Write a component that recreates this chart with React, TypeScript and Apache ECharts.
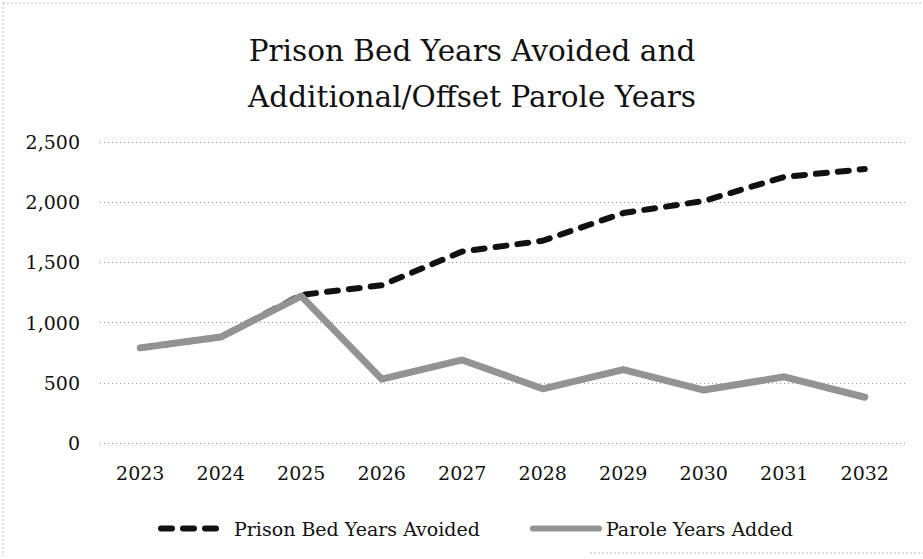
import React, { useEffect, useRef } from "react";
import * as echarts from "echarts";

const years = ["2023", "2024", "2025", "2026", "2027", "2028", "2029", "2030", "2031", "2032"];
const prisonBedYearsAvoided = [790, 880, 1230, 1310, 1590, 1680, 1910, 2010, 2210, 2275];
const paroleYearsAdded = [790, 880, 1220, 530, 690, 450, 610, 440, 550, 380];
const yTicks = [0, 500, 1000, 1500, 2000, 2500];
const titleLines = ["Prison Bed Years Avoided and", "Additional/Offset Parole Years"];
const seriesNames = ["Prison Bed Years Avoided", "Parole Years Added"];

const FONT = "DejaVu Serif";

export default function App() {
  const ref = useRef<HTMLDivElement>(null);
  useEffect(() => {
    if (!ref.current) return;
    const chart = echarts.init(ref.current, null, { renderer: "svg" });
    chart.setOption({
      animation: false,
      backgroundColor: "#ffffff",
      title: {
        text: titleLines.join("\n"),
        left: 467,
        textAlign: "center",
        top: 23,
        textStyle: {
          fontFamily: FONT,
          fontSize: 29.5,
          fontWeight: "normal",
          color: "#111",
          lineHeight: 46,
        },
      },
      legend: {
        data: [
          { name: seriesNames[0], lineStyle: { width: 6, type: [11, 11], cap: "round", color: "#111" } },
          { name: seriesNames[1], lineStyle: { width: 6, color: "#939393" } },
        ],
        left: 153,
        top: 514,
        itemWidth: 66,
        itemHeight: 22,
        itemGap: 50,
        itemStyle: { opacity: 0, color: "transparent", borderWidth: 0 },
        textStyle: { fontFamily: FONT, fontSize: 19, color: "#111", padding: [0, 0, 0, 2] },
      },
      grid: { left: 100, right: 18, top: 142, bottom: 116 },
      xAxis: {
        type: "category",
        data: years,
        boundaryGap: true,
        axisLine: { show: false },
        axisTick: { show: false },
        axisLabel: { fontFamily: FONT, fontSize: 19, color: "#111", margin: 20 },
      },
      yAxis: {
        type: "value",
        min: yTicks[0],
        max: yTicks[yTicks.length - 1],
        interval: yTicks[1] - yTicks[0],
        axisLine: { show: false },
        axisTick: { show: false },
        axisLabel: {
          fontFamily: FONT,
          fontSize: 19,
          color: "#111",
          margin: 20,
          formatter: (v: number) => v.toLocaleString("en-US"),
        },
        splitLine: { lineStyle: { color: "#999", type: [1, 3], width: 1 } },
      },
      series: [
        {
          name: seriesNames[0],
          type: "line",
          data: prisonBedYearsAvoided,
          symbol: "none",
          lineStyle: { color: "#111", width: 6, type: [11, 11], cap: "round" },
          itemStyle: { color: "#111" },
          z: 2,
        },
        {
          name: seriesNames[1],
          type: "line",
          data: paroleYearsAdded,
          symbol: "none",
          lineStyle: { color: "#939393", width: 7, cap: "round", join: "round" },
          itemStyle: { color: "#939393" },
          z: 3,
        },
      ],
      graphic: [
        { type: "line", shape: { x1: 3, y1: 3, x2: 921, y2: 3 }, style: { stroke: "#bbb", lineWidth: 1, lineDash: [2, 2] } },
        { type: "line", shape: { x1: 3, y1: 3, x2: 3, y2: 556 }, style: { stroke: "#bbb", lineWidth: 1, lineDash: [2, 2] } },
        { type: "line", shape: { x1: 590, y1: 553, x2: 923, y2: 553 }, style: { stroke: "#bbb", lineWidth: 1, lineDash: [2, 2] } },
      ],
    });
    return () => chart.dispose();
  }, []);
  return (
    <div
      ref={ref}
      style={{ position: "fixed", left: 0, top: 0, width: 923, height: 559, background: "#fff" }}
    />
  );
}
